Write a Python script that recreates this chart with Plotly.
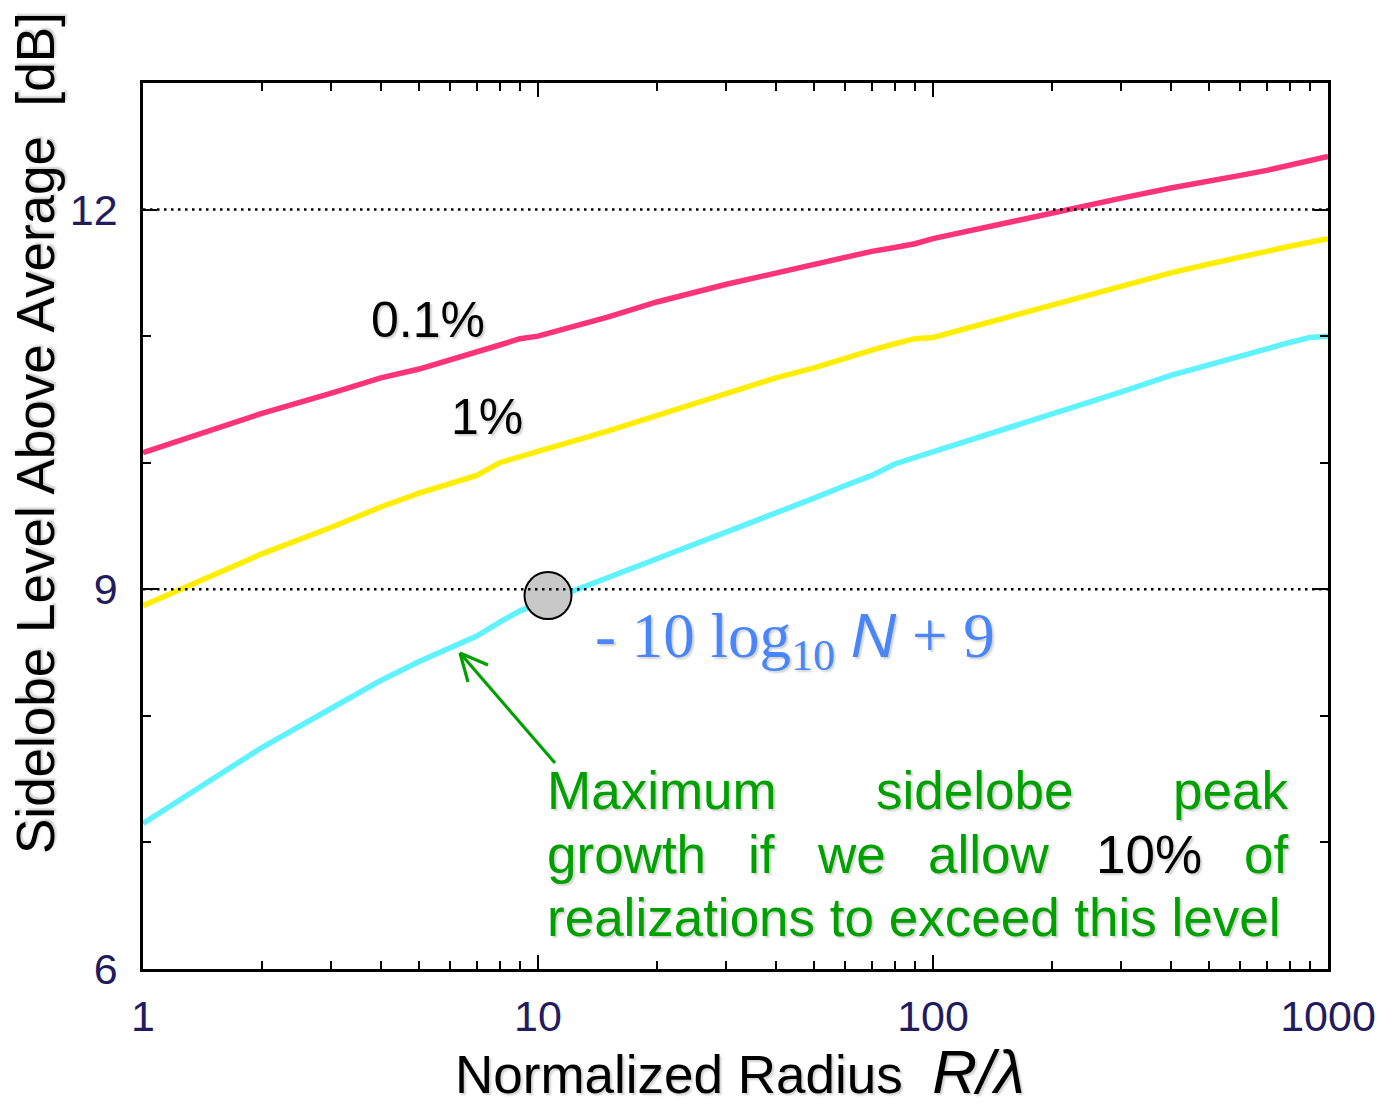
import math
import plotly.graph_objects as go

# Normalized radius R/lambda (shared abscissa for the three curves)
R_OVER_LAMBDA = [1, 2, 3, 4, 5, 6, 7, 8, 9, 10, 15, 20, 30, 40, 50, 60, 70, 80, 90,
                 100, 150, 200, 300, 400, 500, 600, 700, 800, 900, 1000]

# Sidelobe level above average [dB] for each exceedance probability
LEVEL_0P1 = [10.08, 10.39, 10.55, 10.67, 10.74, 10.81, 10.88, 10.93, 10.98, 11.00,
             11.15, 11.27, 11.41, 11.50, 11.57, 11.62, 11.67, 11.70, 11.73,
             11.77, 11.89, 11.98, 12.09, 12.17, 12.22, 12.27, 12.31, 12.35, 12.38, 12.42]
LEVEL_1 = [8.87, 9.28, 9.49, 9.65, 9.76, 9.84, 9.90, 10.00, 10.05, 10.09,
           10.25, 10.37, 10.54, 10.67, 10.75, 10.83, 10.89, 10.94, 10.98,
           10.99, 11.14, 11.25, 11.40, 11.50, 11.57, 11.62, 11.67, 11.71, 11.74, 11.77]
LEVEL_10 = [7.15, 7.75, 8.06, 8.28, 8.43, 8.54, 8.63, 8.74, 8.83, 8.88,
            9.09, 9.25, 9.45, 9.60, 9.72, 9.82, 9.90, 9.99, 10.04,
            10.09, 10.26, 10.38, 10.56, 10.69, 10.77, 10.84, 10.90, 10.95, 10.99, 11.00]

SERIES_LABELS = ["0.1%", "1%"]
MARKED_POINT = (10.6, 8.95)          # where the 10% curve meets -10 log10 N + 9

X_TICKS = [1, 10, 100, 1000]
X_MINOR = [m * d for d in (1, 10, 100) for m in range(2, 10)]
Y_TICKS = [6, 9, 12]
Y_MINOR = [7, 8, 10, 11]

# Figure geometry (pixels)
W, H = 1395, 1112
L, R, T, B = 143, 1328, 83, 969


def px(xp):
    return (xp - L) / (R - L)


def py(yp):
    return (B - yp) / (B - T)


SANS = "Liberation Sans"
SHADOW = "2px 2px 2px rgba(0,0,0,0.18)"
GREEN = "#00A000"
TICK_COLOR = "#221B5E"

fig = go.Figure()

for ys, color in [(LEVEL_0P1, "#FF3379"), (LEVEL_1, "#FFEE00"), (LEVEL_10, "#5EF3FF")]:
    fig.add_trace(go.Scatter(x=R_OVER_LAMBDA, y=ys, mode="lines",
                             line=dict(color=color, width=5.5), hoverinfo="skip"))

fig.add_trace(go.Scatter(x=[MARKED_POINT[0]], y=[MARKED_POINT[1]], mode="markers",
                         marker=dict(size=47, color="#C8C8C8",
                                     line=dict(color="black", width=2)),
                         hoverinfo="skip"))

# Dotted reference levels at the labelled major ticks
for yv in Y_TICKS[1:]:
    fig.add_shape(type="line", xref="paper", x0=0, x1=1, yref="y", y0=yv, y1=yv,
                  line=dict(color="black", width=2.5, dash="2.5px,4.5px"), layer="above")

# Green arrow pointing at the 10% curve: shaft plus two open head arms
head = (460, 653)
arrow_segments = [((555, 763), head), ((head[0] + 8, head[1] + 29), head),
                  ((head[0] + 28, head[1] + 12), head)]
for (x0, y0), (x1, y1) in arrow_segments:
    fig.add_shape(type="line", xref="paper", yref="paper",
                  x0=px(x0), y0=py(y0), x1=px(x1), y1=py(y1),
                  line=dict(color=GREEN, width=3.2), layer="above")

ann = []

ann.append(dict(text="Sidelobe Level Above Average\u00a0\u00a0[dB]", textangle=-90,
                xref="paper", yref="paper", x=px(35), y=py(433),
                xanchor="center", yanchor="middle", showarrow=False,
                font=dict(family=SANS, size=53, color="black", shadow=SHADOW)))

ann.append(dict(text="Normalized Radius\u00a0\u00a0<span style='font-size:62px'><i>R/λ</i></span>",
                xref="paper", yref="paper", x=px(740), y=py(1071),
                xanchor="center", yanchor="middle", showarrow=False,
                font=dict(family=SANS, size=53, color="black", shadow=SHADOW)))

ann.append(dict(text=SERIES_LABELS[0], xref="paper", yref="paper", x=px(428), y=py(320),
                xanchor="center", yanchor="middle", showarrow=False,
                font=dict(family=SANS, size=50, color="black", shadow=SHADOW)))
ann.append(dict(text=SERIES_LABELS[1], xref="paper", yref="paper", x=px(487), y=py(417),
                xanchor="center", yanchor="middle", showarrow=False,
                font=dict(family=SANS, size=50, color="black", shadow=SHADOW)))

ann.append(dict(text="-\u00a010\u00a0log<sub>10</sub>\u00a0<span style='font-family:Liberation Sans'><i>N</i></span>\u00a0+\u00a09",
                xref="paper", yref="paper", x=px(593), y=py(640),
                xanchor="left", yanchor="middle", showarrow=False,
                font=dict(family="Liberation Serif", size=63, color="#4A86F7", shadow=SHADOW)))

# Justified green caption, word by word
words = [
    ("Maximum", 545, "left", 790, GREEN),
    ("sidelobe", 974, "center", 790, GREEN),
    ("peak", 1290, "right", 790, GREEN),
    ("growth", 545, "left", 854, GREEN),
    ("if", 761, "center", 854, GREEN),
    ("we", 851, "center", 854, GREEN),
    ("allow", 989, "center", 854, GREEN),
    ("10%", 1149, "center", 854, "black"),
    ("of", 1290, "right", 854, GREEN),
    ("realizations to exceed this level", 545, "left", 917, GREEN),
]
for w, xp, anchor, yp, col in words:
    ann.append(dict(text=w, xref="paper", yref="paper", x=px(xp), y=py(yp),
                    xanchor=anchor, yanchor="middle", showarrow=False,
                    font=dict(family=SANS, size=53, color=col, shadow=SHADOW)))

fig.update_layout(
    width=W, height=H,
    margin=dict(l=L, r=W - R, t=T, b=H - B),
    paper_bgcolor="white", plot_bgcolor="white",
    showlegend=False,
    annotations=ann,
    xaxis=dict(type="log", range=[0, 3], tickvals=X_TICKS,
               ticktext=[str(v) for v in X_TICKS],
               ticks="inside", ticklen=14, tickwidth=2, tickcolor="black",
               minor=dict(tickvals=X_MINOR, ticks="inside", ticklen=8,
                          tickwidth=2, tickcolor="black", showgrid=False),
               showgrid=False, zeroline=False,
               showline=True, linecolor="black", linewidth=2.5, mirror="ticks",
               ticklabelstandoff=8,
               tickfont=dict(family=SANS, size=43, color=TICK_COLOR)),
    yaxis=dict(range=[6, 13], tickvals=Y_TICKS,
               ticks="inside", ticklen=14, tickwidth=2, tickcolor="black",
               minor=dict(tickvals=Y_MINOR, ticks="inside", ticklen=8,
                          tickwidth=2, tickcolor="black", showgrid=False),
               showgrid=False, zeroline=False,
               showline=True, linecolor="black", linewidth=2.5, mirror="ticks",
               ticklabelstandoff=14,
               tickfont=dict(family=SANS, size=43, color=TICK_COLOR)),
)

fig.write_html("out.html")
